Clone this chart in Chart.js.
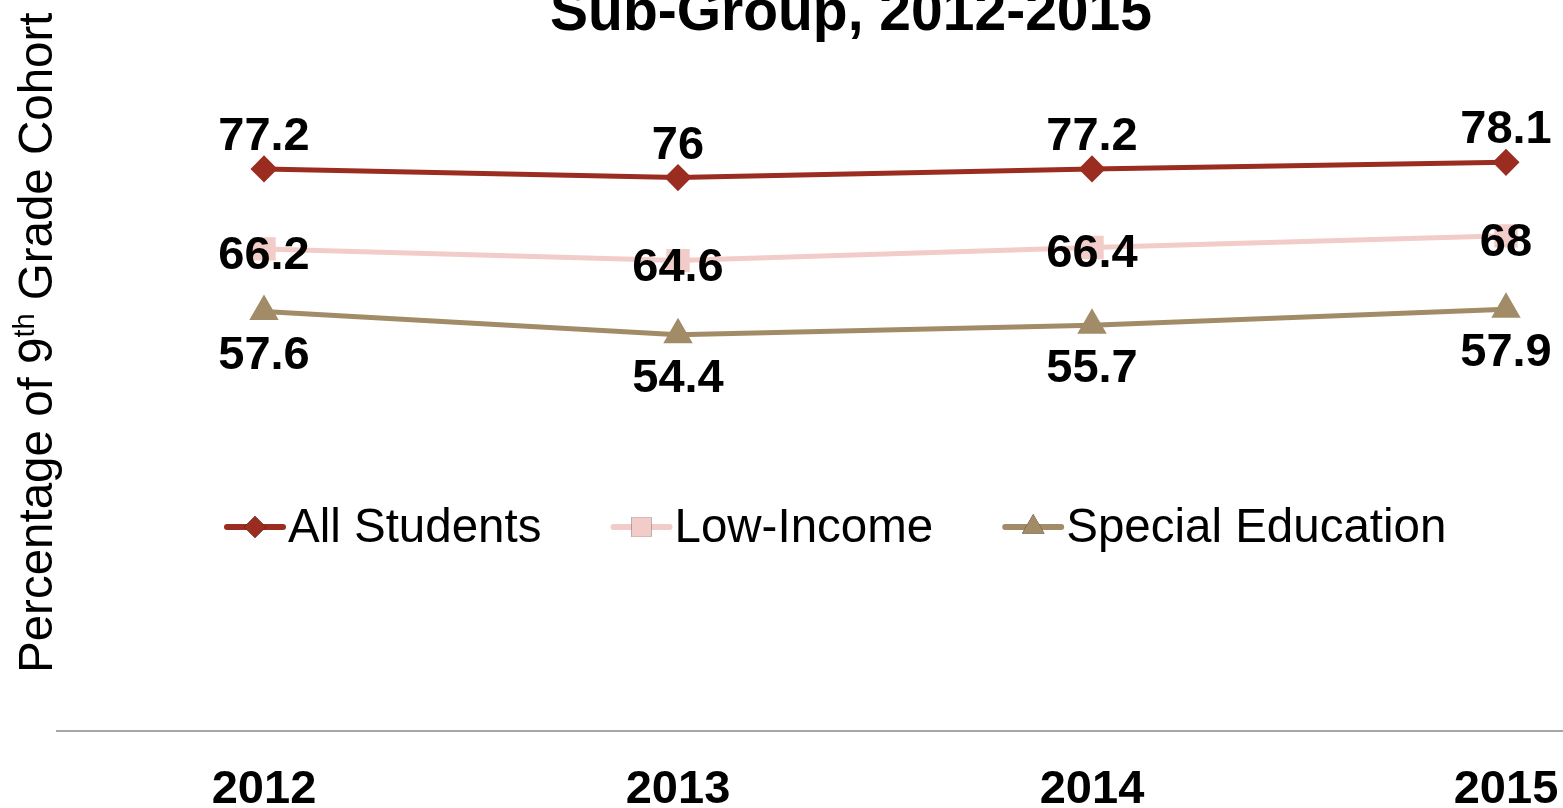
<!DOCTYPE html>
<html>
<head>
<meta charset="utf-8">
<script src="https://cdn.jsdelivr.net/npm/chart.js"></script>
<style>
  html, body { margin: 0; padding: 0; background: #fff; overflow: hidden; }
  .chart-box { width: 1780px; height: 871px; }
</style>
</head>
<body>
<div class="chart-box"><canvas id="chart"></canvas></div>
<script>
// graduation rates by sub-group
const years = ['2012', '2013', '2014', '2015'];
const allStudents = [77.2, 76, 77.2, 78.1];
const lowIncome = [66.2, 64.6, 66.4, 68];
const specialEd = [57.6, 54.4, 55.7, 57.9];
const seriesNames = ['All Students', 'Low-Income', 'Special Education'];

const FONT = '"Liberation Sans", Arial, sans-serif';
const RED = '#9B2C20';
const PINK = '#F2CCC8';
const TAN = '#A28C68';

// where each series puts its value labels, relative to the point
const labelShift = [-36, 3, 40];

const extras = {
  id: 'extras',
  afterDraw(chart) {
    const ctx = chart.ctx;
    ctx.save();

    // title (second line of the heading)
    ctx.fillStyle = '#000';
    ctx.font = 'bold 57px ' + FONT;
    ctx.textAlign = 'center';
    ctx.textBaseline = 'alphabetic';
    ctx.fillText('Sub-Group, 2012-2015', 851, 30);

    // value labels
    ctx.font = 'bold 47px ' + FONT;
    chart.data.datasets.forEach((ds, i) => {
      const meta = chart.getDatasetMeta(i);
      meta.data.forEach((pt, j) => {
        ctx.fillText(String(ds.data[j]), pt.x, pt.y + labelShift[i] + 17);
      });
    });

    // legend inside the plot
    ctx.font = '47.5px ' + FONT;
    ctx.textAlign = 'left';
    const ly = 527, markW = 56, gap = 5, spacing = 72;
    let x = 227;
    chart.data.datasets.forEach((ds) => {
      ctx.strokeStyle = ds.borderColor;
      ctx.lineWidth = 6;
      ctx.lineCap = 'round';
      ctx.beginPath();
      ctx.moveTo(x, ly);
      ctx.lineTo(x + markW, ly);
      ctx.stroke();
      Chart.helpers.drawPoint(ctx, {
        pointStyle: ds.pointStyle,
        radius: ds.pointRadius + 1,
        borderWidth: 0
      }, x + markW / 2, ly);
      ctx.fillStyle = ds.borderColor;
      ctx.fill();
      ctx.fillStyle = '#000';
      ctx.fillText(ds.label, x + markW + gap, ly + 15);
      x += markW + gap + ctx.measureText(ds.label).width + spacing;
    });

    // y axis title, rotated, with superscript ordinal
    ctx.translate(52, 673);
    ctx.rotate(-Math.PI / 2);
    ctx.fillStyle = '#000';
    let tx = 0;
    const parts = [['Percentage of 9', 47.5, 0], ['th', 29, -18], [' Grade Cohort', 47.5, 0]];
    parts.forEach(([t, size, rise]) => {
      ctx.font = size + 'px ' + FONT;
      ctx.fillText(t, tx, rise);
      tx += ctx.measureText(t).width;
    });

    ctx.restore();
  }
};

new Chart(document.getElementById('chart'), {
  type: 'line',
  data: {
    labels: years,
    datasets: [
      {
        label: seriesNames[0], data: allStudents,
        borderColor: RED, backgroundColor: RED,
        borderWidth: 5, pointStyle: 'rectRot', pointRadius: 10
      },
      {
        label: seriesNames[1], data: lowIncome,
        borderColor: PINK, backgroundColor: PINK,
        borderWidth: 5, pointStyle: 'rect', pointRadius: 13
      },
      {
        label: seriesNames[2], data: specialEd,
        borderColor: TAN, backgroundColor: TAN,
        borderWidth: 5, pointStyle: 'triangle', pointRadius: 12
      }
    ]
  },
  options: {
    responsive: true,
    maintainAspectRatio: false,
    animation: false,
    layout: { autoPadding: false, padding: { left: 57, right: 67, top: 3, bottom: 22 } },
    plugins: { legend: { display: false }, tooltip: { enabled: false } },
    elements: { line: { tension: 0 }, point: { borderWidth: 0 } },
    scales: {
      x: {
        offset: true,
        grid: { display: false, drawTicks: false },
        border: { display: true, color: '#A6A6A6', width: 2 },
        ticks: { color: '#000', padding: 31, font: { family: FONT, size: 47, weight: 'bold' } }
      },
      y: { display: false, min: 0, max: 100 }
    }
  },
  plugins: [extras]
});
</script>
</body>
</html>
